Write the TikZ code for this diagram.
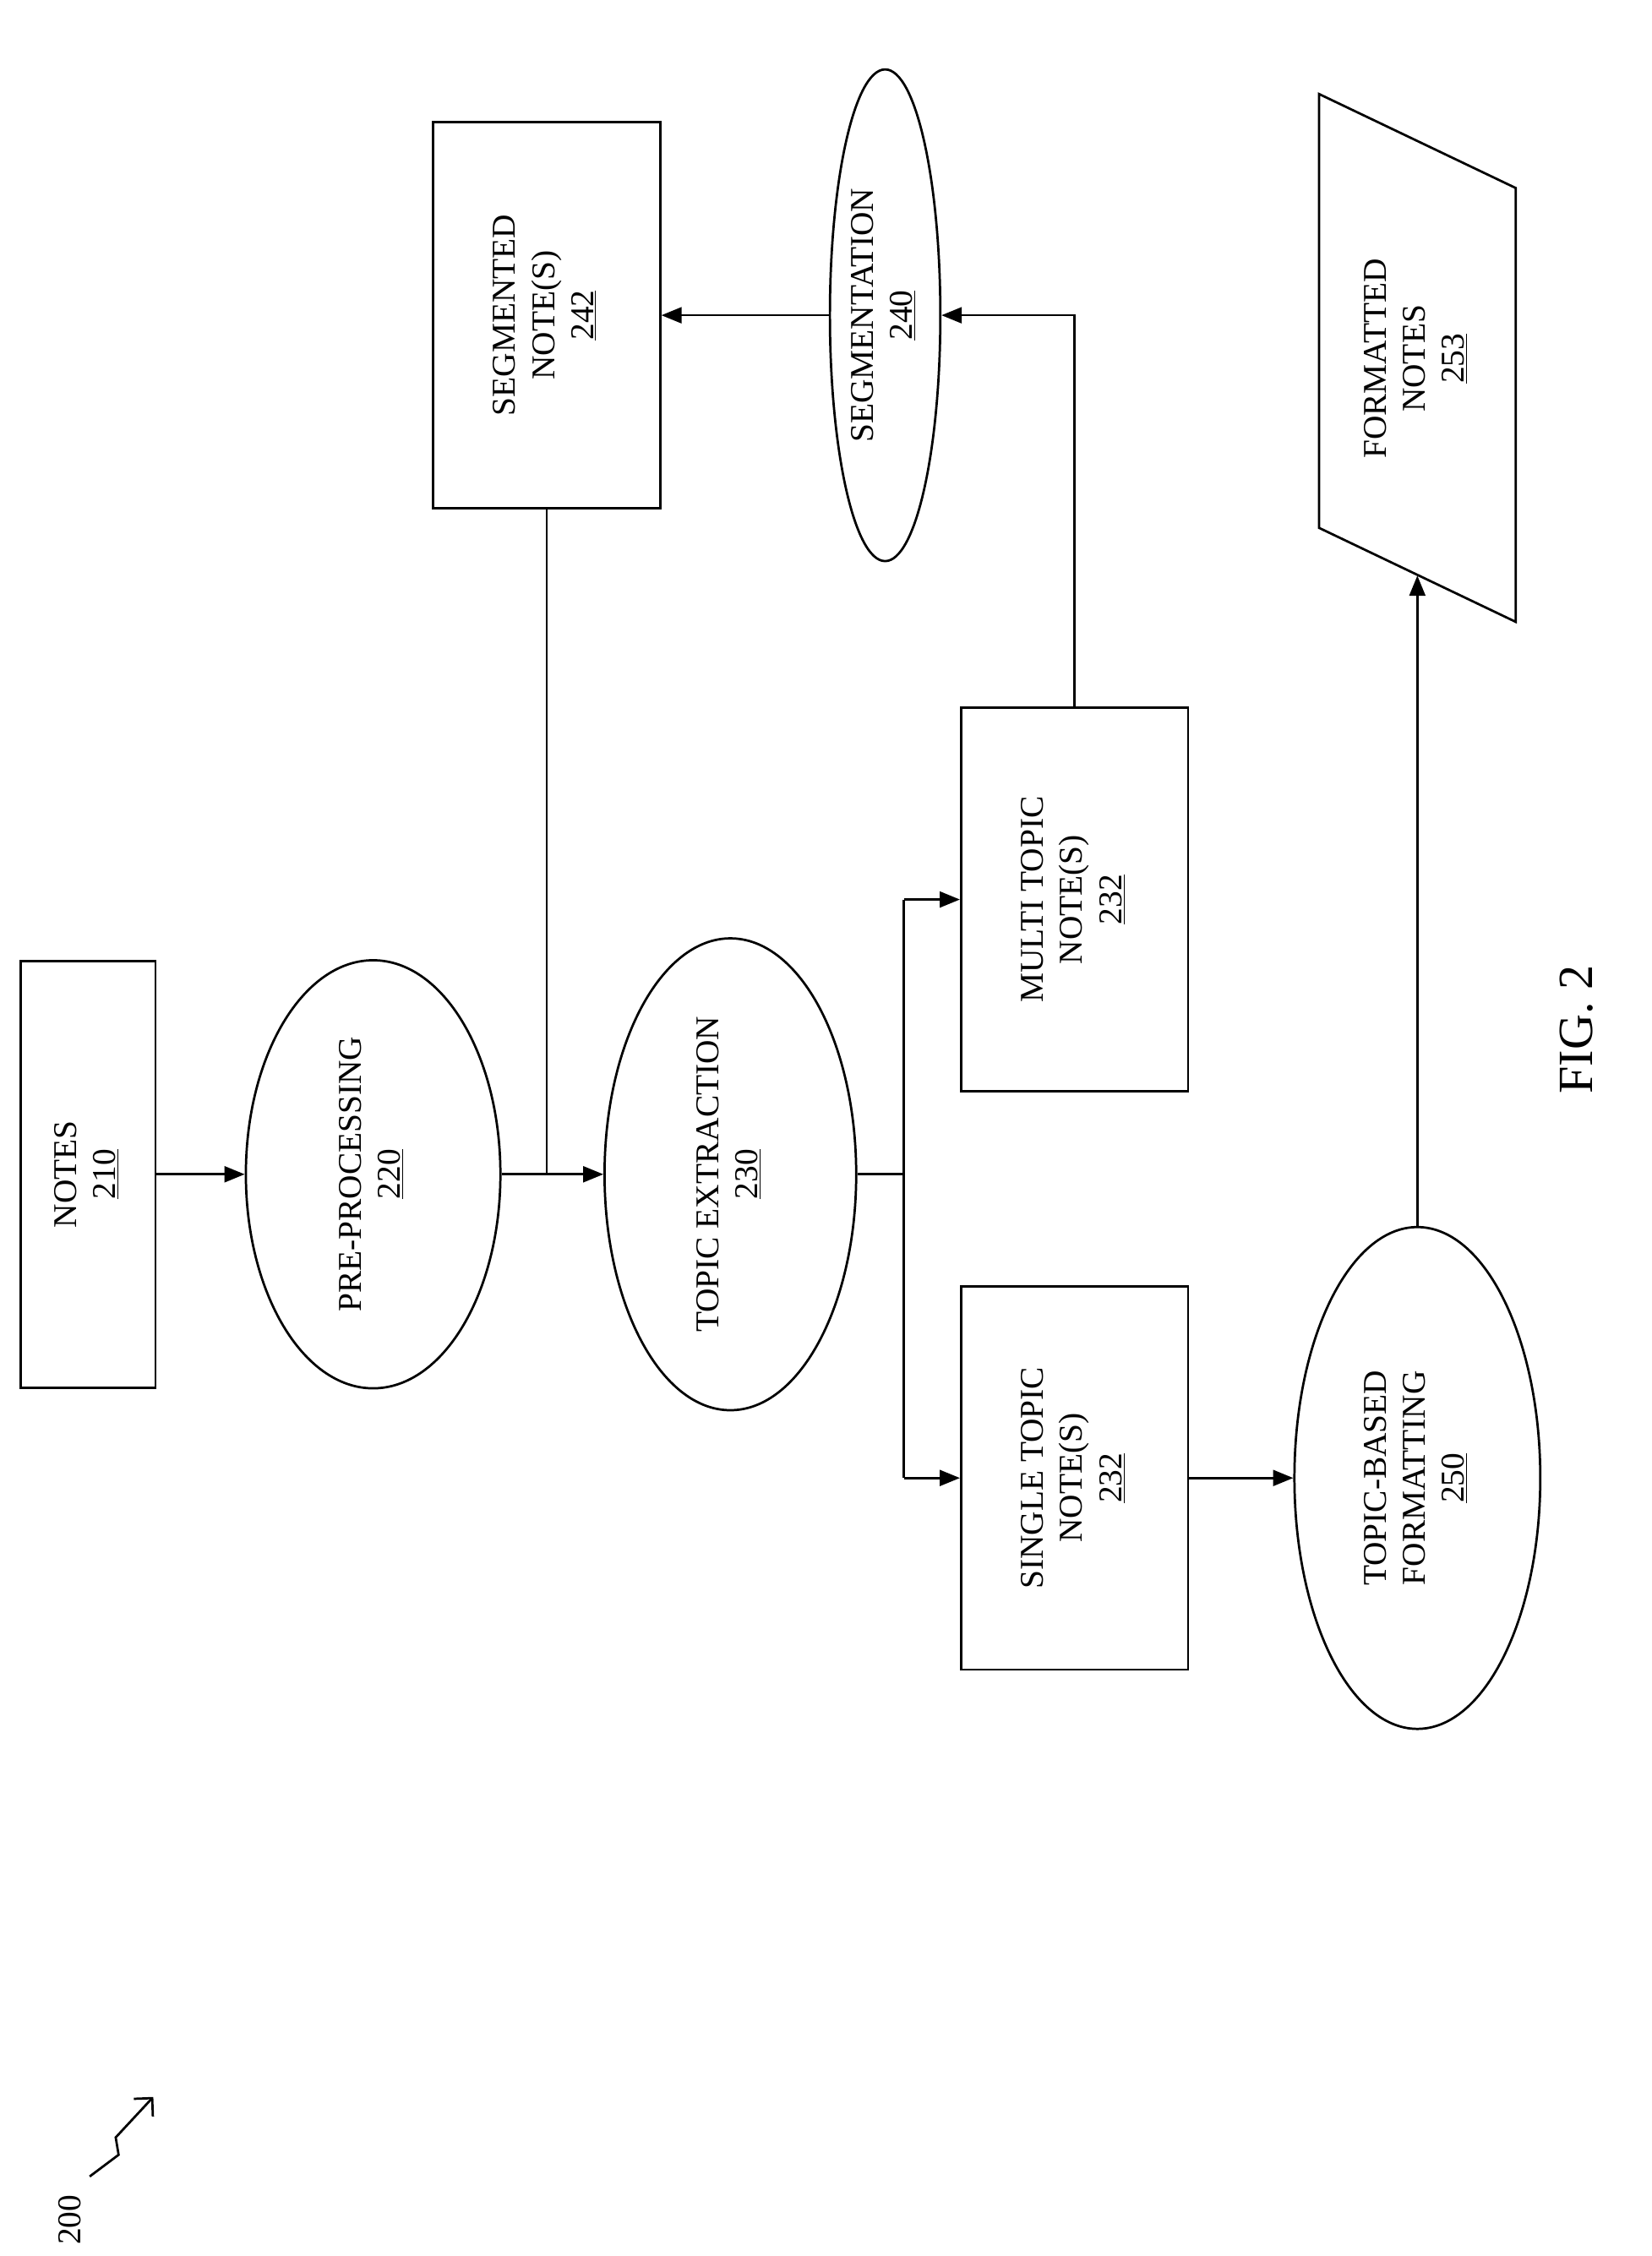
\documentclass[tikz,border=0pt]{standalone}
\usepackage{fontspec}
\setmainfont{Liberation Serif}
\usetikzlibrary{arrows.meta,shapes.geometric}
\begin{document}
\begin{tikzpicture}[x=1pt,y=-1pt,
  every node/.style={font=\fontsize{23}{27}\selectfont, align=center},
  box/.style={draw, line width=1.6pt, inner sep=0pt},
  ell/.style={draw, ellipse, line width=1.6pt, inner sep=0pt},
  ln/.style={line width=1.6pt},
  ar/.style={line width=1.6pt, -{Triangle[length=14pt,width=11pt]}}]
\useasboundingbox (0,0) rectangle (1142,1560);
\node[box, minimum width=93, minimum height=295] (n210) at (61,812) {\rotatebox{90}{\begin{tabular}{c}NOTES\\\underline{210}\end{tabular}}};
\node[ell, minimum width=176, minimum height=296] (n220) at (258,812) {\rotatebox{90}{\begin{tabular}{c}PRE-PROCESSING\\\underline{220}\end{tabular}}};
\node[ell, minimum width=174, minimum height=296] (n230) at (505,812) {\rotatebox{90}{\begin{tabular}{c}TOPIC EXTRACTION\\\underline{230}\end{tabular}}};
\node[box, minimum width=157, minimum height=267] (n242) at (378,218) {\rotatebox{90}{\begin{tabular}{c}SEGMENTED\\NOTE(S)\\\underline{242}\end{tabular}}};
\node[ell, minimum width=76, minimum height=340] (n240) at (612,218) {\rotatebox{90}{\begin{tabular}{c}SEGMENTATION\\\underline{240}\end{tabular}}};
\node[box, minimum width=157, minimum height=265] (m232) at (743,622) {\rotatebox{90}{\begin{tabular}{c}MULTI TOPIC\\NOTE(S)\\\underline{232}\end{tabular}}};
\node[box, minimum width=157, minimum height=265] (s232) at (743,1022) {\rotatebox{90}{\begin{tabular}{c}SINGLE TOPIC\\NOTE(S)\\\underline{232}\end{tabular}}};
\node[ell, minimum width=170, minimum height=347] (n250) at (980,1022) {\rotatebox{90}{\begin{tabular}{c}TOPIC-BASED\\FORMATTING\\\underline{250}\end{tabular}}};
\draw[ln] (912,65) -- (1048,130) -- (1048,430) -- (912,365) -- cycle;
\node (n253) at (980,248) {\rotatebox{90}{\begin{tabular}{c}FORMATTED\\NOTES\\\underline{253}\end{tabular}}};
\coordinate (p253) at (980,398);
\node[font=\fontsize{34}{40}\selectfont] (fig) at (1090,712) {\rotatebox{90}{FIG. 2}};
\node (l200) at (48,1535) {\rotatebox{90}{200}};
\coordinate (z1) at (62,1505);
\coordinate (z2) at (106,1450);
\draw[ln, -{Straight Barb[length=9pt]}] (z1) -- (82,1490) -- (80,1478) -- (z2);

\draw[ar] (n210) -- (n220);
\draw[ar] (n220) -- (n230);
\draw[ln] (n242.south) -- (378,812);
\coordinate (j) at (625,812);
\draw[ln] (n230.east) -- (j);
\draw[ar] (625,622) -- (m232.west);
\draw[ar] (625,1022) -- (s232.west);
\draw[ln] (625,622) -- (625,1022);
\draw[ar] (m232.north) |- (n240.east);
\draw[ar] (n240.west) -- (n242.east);
\draw[ar] (s232) -- (n250);
\draw[ar] (n250.north) -- (p253);
\end{tikzpicture}
\end{document}
